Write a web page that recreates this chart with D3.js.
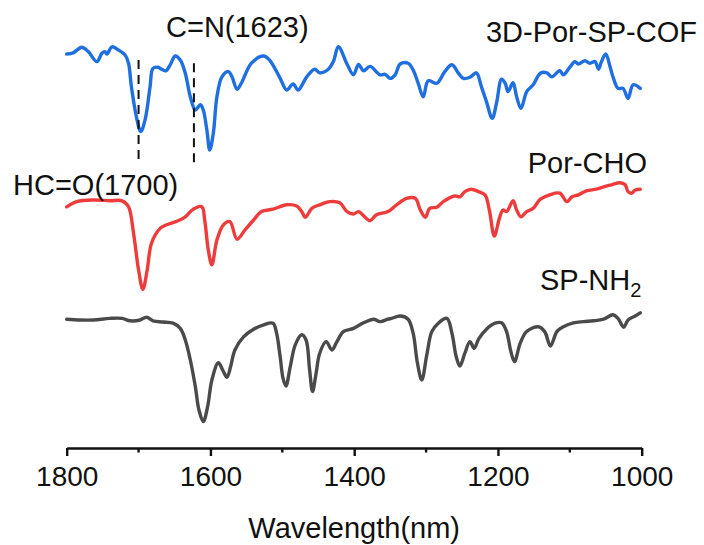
<!DOCTYPE html>
<html>
<head>
<meta charset="utf-8">
<script src="https://cdn.jsdelivr.net/npm/d3@7"></script>
<style>
  body { margin: 0; background: #fff; }
  svg text { font-family: "Liberation Sans", Arial, sans-serif; fill: #111; }
</style>
</head>
<body>
<svg id="chart" width="704" height="545"></svg>
<script>
// spectra as [wavenumber, intensity (a.u., offset)]
var cofSpectrum = [
  [1800, 98.5], [1791, 98.8], [1779, 100.2], [1770, 99.1], [1758, 96.6], [1751, 98.7], [1747, 99.1],
  [1744, 98.5], [1737, 100.3], [1728, 99.5], [1719, 98.3], [1714, 96.2], [1710, 90.3], [1703, 82.8],
  [1697, 79.1], [1691, 82.0], [1684, 90.3], [1680, 94.9], [1673, 95.2], [1668, 94.7], [1662, 94.3],
  [1656, 95.8], [1649, 98.0], [1642, 97.0], [1635, 93.7], [1628, 87.8], [1621, 84.5], [1614, 85.8],
  [1610, 84.5], [1605, 79.5], [1601, 74.5], [1596, 78.7], [1591, 87.8], [1584, 92.8], [1575, 94.1],
  [1570, 92.8], [1563, 89.7], [1557, 91.2], [1543, 96.2], [1526, 98.0], [1517, 96.8], [1503, 92.4],
  [1494, 89.5], [1485, 91.0], [1478, 89.5], [1466, 92.8], [1455, 94.7], [1448, 93.8], [1436, 94.7],
  [1429, 96.6], [1422, 100.3], [1410, 96.0], [1401, 93.3], [1394, 95.9], [1387, 94.3], [1378, 95.4],
  [1364, 93.3], [1357, 93.4], [1350, 92.4], [1343, 93.3], [1336, 96.0], [1325, 96.2], [1318, 94.5],
  [1311, 91.2], [1304, 87.8], [1297, 91.8], [1285, 91.2], [1274, 94.1], [1264, 95.8], [1255, 93.7],
  [1248, 92.4], [1239, 92.7], [1230, 93.8], [1223, 90.3], [1216, 86.6], [1208, 82.4], [1202, 86.2],
  [1195, 92.2], [1190, 91.2], [1186, 89.1], [1179, 91.3], [1174, 87.8], [1168, 84.9], [1160, 89.1],
  [1151, 90.8], [1141, 93.7], [1132, 93.8], [1125, 92.8], [1114, 94.3], [1109, 93.3], [1100, 95.2],
  [1093, 96.6], [1088, 96.0], [1079, 96.8], [1072, 96.2], [1065, 96.6], [1060, 94.7], [1056, 96.6],
  [1050, 98.5], [1044, 95.3], [1040, 92.8], [1033, 89.9], [1026, 89.9], [1019, 87.4], [1012, 90.8],
  [1002, 89.9]
];

var choSpectrum = [
  [1800, 60.3], [1786, 61.6], [1763, 62.0], [1740, 61.8], [1723, 61.8], [1714, 60.3], [1707, 53.7],
  [1700, 44.5], [1694, 39.7], [1688, 44.5], [1682, 51.2], [1670, 54.9], [1661, 55.8], [1645, 56.8],
  [1635, 57.8], [1624, 59.7], [1612, 60.3], [1608, 57.0], [1603, 49.5], [1598, 45.8], [1591, 52.0],
  [1582, 55.8], [1573, 56.6], [1563, 52.2], [1552, 54.5], [1540, 57.0], [1529, 59.1], [1513, 59.7],
  [1494, 60.8], [1480, 60.5], [1473, 59.1], [1468, 57.7], [1459, 59.9], [1448, 60.8], [1434, 61.6],
  [1420, 61.3], [1410, 59.1], [1401, 58.5], [1394, 59.1], [1385, 57.7], [1378, 56.8], [1369, 58.3],
  [1353, 59.1], [1341, 60.8], [1327, 62.4], [1315, 62.4], [1308, 59.5], [1301, 57.7], [1295, 59.9],
  [1285, 60.2], [1276, 61.6], [1260, 63.0], [1253, 62.8], [1246, 64.1], [1237, 64.7], [1227, 64.1],
  [1218, 63.3], [1212, 59.5], [1205, 53.0], [1198, 57.4], [1193, 59.5], [1188, 59.1], [1179, 61.8],
  [1174, 59.5], [1168, 57.8], [1160, 59.1], [1151, 59.9], [1141, 62.2], [1128, 63.3], [1114, 63.7],
  [1104, 61.6], [1097, 62.8], [1088, 63.3], [1077, 64.3], [1063, 64.7], [1053, 65.3], [1042, 65.8],
  [1030, 66.3], [1023, 65.8], [1019, 64.1], [1014, 63.7], [1009, 64.5], [1002, 64.7]
];

var nh2Spectrum = [
  [1800, 32.2], [1781, 32.0], [1763, 32.0], [1740, 32.4], [1723, 32.4], [1712, 31.8], [1698, 32.0],
  [1689, 32.7], [1680, 31.8], [1666, 31.5], [1652, 31.2], [1642, 29.9], [1635, 27.0], [1628, 22.0],
  [1621, 15.3], [1616, 9.5], [1610, 6.6], [1604, 10.3], [1598, 17.0], [1589, 21.3], [1583, 19.5],
  [1577, 17.7], [1572, 20.3], [1566, 24.5], [1554, 27.8], [1540, 29.7], [1526, 30.8], [1513, 31.2],
  [1508, 28.7], [1503, 22.8], [1499, 17.4], [1495, 15.5], [1489, 20.3], [1482, 25.8], [1473, 28.3],
  [1467, 27.0], [1462, 19.5], [1458, 14.1], [1453, 18.7], [1448, 23.7], [1439, 26.6], [1431, 24.5],
  [1424, 26.6], [1415, 29.1], [1401, 29.9], [1387, 31.3], [1373, 32.2], [1364, 31.6], [1353, 32.2],
  [1348, 32.4], [1336, 33.0], [1325, 32.2], [1318, 28.7], [1312, 21.2], [1306, 17.0], [1299, 23.3],
  [1292, 29.1], [1283, 31.2], [1271, 32.4], [1264, 28.7], [1258, 22.8], [1253, 20.5], [1246, 23.7],
  [1239, 26.6], [1233, 24.9], [1227, 27.2], [1216, 29.7], [1204, 31.2], [1195, 31.3], [1188, 29.1],
  [1182, 24.1], [1177, 21.6], [1169, 26.2], [1160, 29.1], [1144, 30.3], [1135, 29.1], [1127, 25.5],
  [1118, 29.1], [1109, 30.3], [1095, 31.3], [1081, 31.6], [1067, 31.8], [1053, 32.2], [1040, 33.3],
  [1033, 32.4], [1025, 30.2], [1019, 32.0], [1009, 33.0], [1002, 33.8]
];

var seriesNames = ["3D-Por-SP-COF", "Por-CHO", "SP-NH2"];
var seriesColors = ["#1f6fe0", "#ee3b3b", "#4a4a4a"];
var majorTicks = [1800, 1600, 1400, 1200, 1000];
var minorTicks = [1700, 1500, 1300, 1100];
var markWaves = [1700, 1623];
var markTops = [97, 96.2];
var markBottoms = [71.2, 70];
var markLabels = ["HC=O(1700)", "C=N(1623)"];

var svg = d3.select("#chart");
var x = d3.scaleLinear().domain([1800, 1000]).range([66.7, 641.7]);
var y = d3.scaleLinear().domain([0, 100]).range([448, 48]);
var labelSize = 29;

var line = d3.line()
  .x(function(d) { return x(d[0]); })
  .y(function(d) { return y(d[1]); })
  .curve(d3.curveCatmullRom.alpha(0.5));

[cofSpectrum, choSpectrum, nh2Spectrum].forEach(function(data, i) {
  svg.append("path")
    .datum(data)
    .attr("d", line)
    .attr("fill", "none")
    .attr("stroke", seriesColors[i])
    .attr("stroke-width", 3.4)
    .attr("stroke-linejoin", "round")
    .attr("stroke-linecap", "round");
});

// dashed guide lines
markWaves.forEach(function(w, i) {
  svg.append("line")
    .attr("x1", x(w)).attr("x2", x(w))
    .attr("y1", y(markTops[i])).attr("y2", y(markBottoms[i]))
    .attr("stroke", "#111")
    .attr("stroke-width", 2)
    .attr("stroke-dasharray", "9,6");
});

// axis
var axis = d3.axisBottom(x).tickValues(majorTicks).tickFormat(d3.format("d"))
  .tickSize(8).tickSizeOuter(0).tickPadding(10);
var gx = svg.append("g").attr("transform", "translate(0,448)").call(axis);
gx.select(".domain").attr("stroke", "#111").attr("stroke-width", 2.4);
gx.selectAll(".tick line").attr("stroke", "#111").attr("stroke-width", 2.4);
gx.selectAll(".tick text")
  .attr("font-family", "Liberation Sans, Arial, sans-serif")
  .attr("font-size", 28)
  .attr("fill", "#111");
var gm = svg.append("g").attr("transform", "translate(0,448)");
minorTicks.forEach(function(t) {
  gm.append("line")
    .attr("x1", x(t)).attr("x2", x(t))
    .attr("y1", 0).attr("y2", 4.5)
    .attr("stroke", "#111").attr("stroke-width", 2.4);
});

svg.append("text")
  .attr("x", (x(1800) + x(1000)) / 2)
  .attr("y", 538)
  .attr("text-anchor", "middle")
  .attr("font-size", labelSize)
  .text("Wavelength(nm)");

// series labels
svg.append("text").attr("x", 697).attr("y", 42).attr("text-anchor", "end")
  .attr("font-size", labelSize).text(seriesNames[0]);
svg.append("text").attr("x", 647).attr("y", 173).attr("text-anchor", "end")
  .attr("font-size", labelSize).text(seriesNames[1]);
var nh = svg.append("text").attr("x", 540).attr("y", 290).attr("font-size", labelSize);
nh.append("tspan").text("SP-NH");
nh.append("tspan").attr("font-size", 20).attr("dy", 7).text("2");

// peak labels
svg.append("text").attr("x", 13).attr("y", 195).attr("font-size", labelSize).text(markLabels[0]);
svg.append("text").attr("x", 166).attr("y", 37).attr("font-size", labelSize).text(markLabels[1]);
</script>
</body>
</html>
